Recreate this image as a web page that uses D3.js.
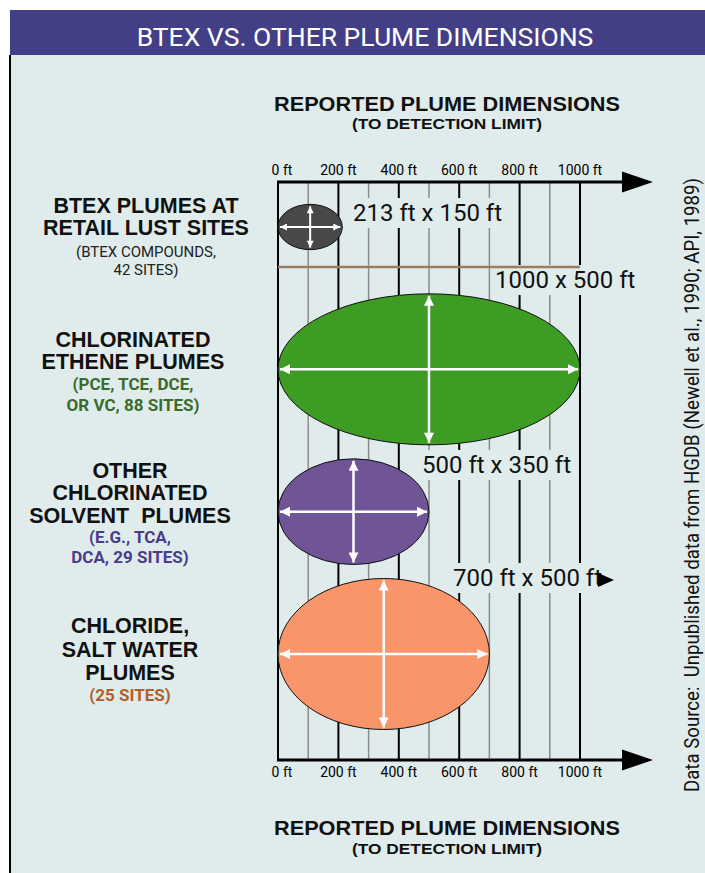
<!DOCTYPE html>
<html>
<head>
<meta charset="utf-8">
<script src="https://cdn.jsdelivr.net/npm/d3@7"></script>
<style>
  html, body { margin: 0; padding: 0; background: #fff; }
  svg { display: block; }
  text { white-space: pre; }
</style>
</head>
<body>
<div id="chart"></div>
<script>
// plume data (feet)
var categories = ['BTEX', 'Chlorinated ethene', 'Other chlorinated solvent', 'Chloride'];
var plumeLength = [213, 1000, 500, 700];
var plumeWidth = [150, 500, 350, 500];
var plumeColors = ['#484848', '#3d9c24', '#6f5596', '#f8956a'];
var dimLabels = ['213 ft x 150 ft', '1000 x 500 ft', '500 ft x 350 ft', '700 ft x 500 ft'];

var tickValues = [0, 200, 400, 600, 800, 1000];
var tickLabels = ['0 ft', '200 ft', '400 ft', '600 ft', '800 ft', '1000 ft'];

var groupTitles = [
  ['BTEX PLUMES AT', 'RETAIL LUST SITES'],
  ['CHLORINATED', 'ETHENE PLUMES'],
  ['OTHER', 'CHLORINATED', 'SOLVENT  PLUMES'],
  ['CHLORIDE,', 'SALT WATER', 'PLUMES']
];
var groupNotes = [
  ['(BTEX COMPOUNDS,', '42 SITES)'],
  ['(PCE, TCE, DCE,', 'OR VC, 88 SITES)'],
  ['(E.G., TCA,', 'DCA, 29 SITES)'],
  ['(25 SITES)']
];
var noteColors = ['#222', '#3b6b2c', '#4b3c8a', '#b45f28'];

// layout
var W = 705, H = 873;
var titleBase = [[213, 235], [347, 369], [478, 500, 523], [633, 657, 680]];
var noteBase = [[257, 275], [390, 411], [543, 563], [701]];
var labelCx = [146, 133, 130, 130];
var dimPos = [[353, 221], [495, 288], [422, 473], [453, 586]];
var axisTop = 182, axisBottom = 760;

var svg = d3.select('#chart').append('svg')
  .attr('width', W).attr('height', H);

svg.append('rect').attr('x', 10).attr('y', 55).attr('width', W - 10).attr('height', H - 55)
  .attr('fill', '#dfeceb');
svg.append('line').attr('x1', 10).attr('x2', 10).attr('y1', 55).attr('y2', H)
  .attr('stroke', '#000').attr('stroke-width', 2);

// title bar
svg.append('rect').attr('x', 10).attr('y', 10).attr('width', W - 10).attr('height', 45)
  .attr('fill', '#433f86');
svg.append('text').attr('x', 365).attr('y', 46)
  .attr('text-anchor', 'middle')
  .style('font', '26.5px Roboto, sans-serif').style('fill', '#fff')
  .text('BTEX VS. OTHER PLUME DIMENSIONS');

var x = d3.scaleLinear().domain([0, 1000]).range([278, 580]);
var y = d3.scalePoint().domain(categories).range([227, 654]);
var ft = function (v) { return x(v) - x(0); };

// grid lines
svg.append('g').selectAll('line')
  .data(x.ticks(10))
  .enter().append('line')
  .attr('x1', function (d) { return x(d); })
  .attr('x2', function (d) { return x(d); })
  .attr('y1', axisTop).attr('y2', axisBottom)
  .attr('stroke', function (d) { return d % 200 === 0 ? '#000' : '#8c8c8c'; })
  .attr('stroke-width', function (d) { return d % 200 === 0 ? 2 : 1.5; });

// dimension label boxes (hide grid lines behind the labels)
var dimG = svg.append('g');

// brown 1000 ft bar
svg.append('line')
  .attr('x1', x(0)).attr('x2', x(1000)).attr('y1', 267).attr('y2', 267)
  .attr('stroke', '#9e7b5c').attr('stroke-width', 2.5);

// axes with arrows
[axisTop, axisBottom].forEach(function (ay) {
  svg.append('line').attr('x1', x(0) - 1).attr('x2', 625).attr('y1', ay).attr('y2', ay)
    .attr('stroke', '#000').attr('stroke-width', 3);
  svg.append('path')
    .attr('d', 'M622,' + (ay - 10.5) + 'L653,' + ay + 'L622,' + (ay + 10.5) + 'Z')
    .attr('fill', '#000');
});

svg.append('g').selectAll('text')
  .data(tickValues)
  .enter().append('text')
  .attr('x', function (d) { return x(d) + (d === 0 ? 4 : 0); })
  .attr('y', 175)
  .attr('text-anchor', 'middle')
  .style('font', '14px Roboto, sans-serif')
  .text(function (d, i) { return tickLabels[i]; });

svg.append('g').selectAll('text')
  .data(tickValues)
  .enter().append('text')
  .attr('x', function (d) { return x(d) + (d === 0 ? 4 : 0); })
  .attr('y', 777)
  .attr('text-anchor', 'middle')
  .style('font', '14px Roboto, sans-serif')
  .text(function (d, i) { return tickLabels[i]; });

// plumes go under the label texts
var plumeLayer = svg.append('g');

var dimText = svg.append('g');
dimLabels.forEach(function (s, i) {
  var t = dimText.append('text')
    .attr('x', dimPos[i][0]).attr('y', dimPos[i][1])
    .style('font', '24px Roboto, sans-serif').style('fill', '#111')
    .text(s);
  var b = t.node().getBBox();
  dimG.append('rect')
    .attr('x', b.x - 2).attr('y', b.y - 1)
    .attr('width', b.width + 4).attr('height', b.height + 2)
    .attr('fill', '#dfeceb');
});
svg.append('path').attr('d', 'M598,573L614,580L598,587Z').attr('fill', '#000');

// arrow markers
var defs = svg.append('defs');
[['arrS', 8, 7], ['arrL', 12, 10]].forEach(function (m) {
  defs.append('marker')
    .attr('id', m[0])
    .attr('markerUnits', 'userSpaceOnUse')
    .attr('viewBox', '0 0 10 10')
    .attr('refX', 10).attr('refY', 5)
    .attr('markerWidth', m[1]).attr('markerHeight', m[2])
    .attr('orient', 'auto-start-reverse')
    .append('path').attr('d', 'M0,0L10,5L0,10Z').attr('fill', '#fff');
});

// plumes
var plumes = plumeLayer.selectAll('g')
  .data(categories)
  .enter().append('g');

plumes.append('ellipse')
  .attr('cx', function (d, i) { return x(plumeLength[i] / 2); })
  .attr('cy', function (d) { return y(d); })
  .attr('rx', function (d, i) { return ft(plumeLength[i]) / 2; })
  .attr('ry', function (d, i) { return ft(plumeWidth[i]) / 2; })
  .attr('fill', function (d, i) { return plumeColors[i]; })
  .attr('stroke', '#111').attr('stroke-width', 1);

plumes.append('line')
  .attr('x1', x(0) + 2)
  .attr('x2', function (d, i) { return x(plumeLength[i]) - 2; })
  .attr('y1', function (d) { return y(d); })
  .attr('y2', function (d) { return y(d); })
  .attr('stroke', '#fff').attr('stroke-width', function (d, i) { return i === 0 ? 2 : 2.5; })
  .attr('marker-start', function (d, i) { return i === 0 ? 'url(#arrS)' : 'url(#arrL)'; })
  .attr('marker-end', function (d, i) { return i === 0 ? 'url(#arrS)' : 'url(#arrL)'; });

plumes.append('line')
  .attr('x1', function (d, i) { return x(plumeLength[i] / 2); })
  .attr('x2', function (d, i) { return x(plumeLength[i] / 2); })
  .attr('y1', function (d, i) { return y(d) - ft(plumeWidth[i]) / 2 + 2; })
  .attr('y2', function (d, i) { return y(d) + ft(plumeWidth[i]) / 2 - 2; })
  .attr('stroke', '#fff').attr('stroke-width', function (d, i) { return i === 0 ? 2 : 2.5; })
  .attr('marker-start', function (d, i) { return i === 0 ? 'url(#arrS)' : 'url(#arrL)'; })
  .attr('marker-end', function (d, i) { return i === 0 ? 'url(#arrS)' : 'url(#arrL)'; });

// category labels
groupTitles.forEach(function (lines, i) {
  lines.forEach(function (s, j) {
    svg.append('text')
      .attr('x', labelCx[i]).attr('y', titleBase[i][j])
      .attr('text-anchor', 'middle')
      .style('font', 'bold 21.5px "Liberation Sans", Arial, sans-serif').style('fill', '#111')
      .text(s);
  });
  groupNotes[i].forEach(function (s, j) {
    svg.append('text')
      .attr('x', labelCx[i]).attr('y', noteBase[i][j])
      .attr('text-anchor', 'middle')
      .style('font', i === 0 ? '15px Roboto, sans-serif' : 'bold 17px Roboto, sans-serif')
      .style('fill', noteColors[i])
      .text(s);
  });
});

// axis headers
[[111, 129], [835, 854]].forEach(function (p) {
  svg.append('text').attr('x', 447).attr('y', p[0])
    .attr('text-anchor', 'middle')
    .style('font', 'bold 20px "Liberation Sans", Arial, sans-serif').style('fill', '#111')
    .attr('textLength', 346).attr('lengthAdjust', 'spacingAndGlyphs')
    .text('REPORTED PLUME DIMENSIONS');
  svg.append('text').attr('x', 447).attr('y', p[1])
    .attr('text-anchor', 'middle')
    .style('font', 'bold 15px "Liberation Sans", Arial, sans-serif').style('fill', '#111')
    .attr('textLength', 190).attr('lengthAdjust', 'spacingAndGlyphs')
    .text('(TO DETECTION LIMIT)');
});

// source note
svg.append('text')
  .attr('transform', 'translate(699,485) rotate(-90)')
  .attr('text-anchor', 'middle')
  .style('font', '20px Roboto, sans-serif').style('fill', '#111')
  .attr('textLength', 614).attr('lengthAdjust', 'spacingAndGlyphs')
  .text('Data Source:  Unpublished data from HGDB (Newell et al., 1990; API, 1989)');
</script>
</body>
</html>
